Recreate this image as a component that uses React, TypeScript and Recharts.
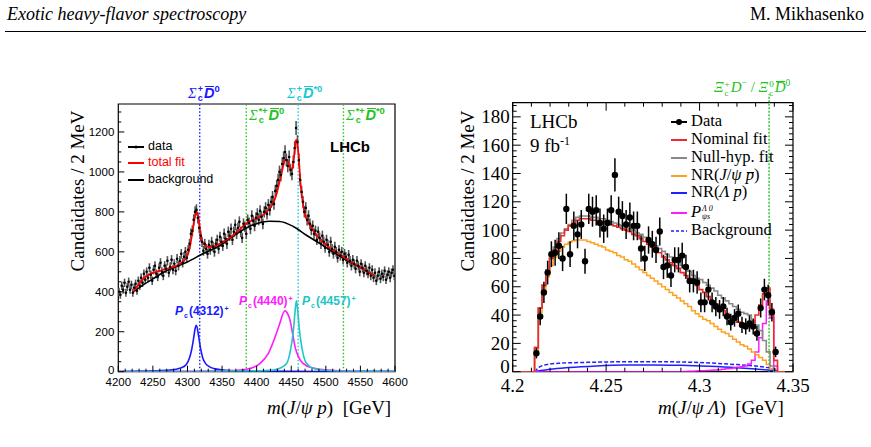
import React from 'react';
import {
  ComposedChart,
  Line,
  Scatter,
  ErrorBar,
  XAxis,
  YAxis,
  ReferenceLine,
  ReferenceArea,
} from 'recharts';

const SERIF = "'Liberation Serif', 'Times New Roman', serif";
const SANS = "'Liberation Sans', Arial, Helvetica, sans-serif";

// ---------- left panel: m(J/psi p), 2 MeV bins ----------
const jpsipFirstBin = 4201;
const jpsipBinWidth = 2;
const jpsipCounts = [
  400, 385, 430, 410, 445, 395, 425, 450, 410, 435,
  395, 420, 440, 405, 455, 430, 470, 445, 490, 460,
  500, 470, 520, 485, 455, 510, 530, 490, 475, 520,
  545, 500, 480, 530, 515, 555, 495, 525, 560, 510,
  540, 505, 565, 530, 555, 590, 545, 575, 600, 570,
  610, 640, 690, 705, 760, 800, 810, 770, 720, 680,
  650, 605, 640, 615, 590, 635, 610, 650, 625, 600,
  640, 660, 615, 675, 650, 630, 690, 665, 640, 700,
  680, 715, 660, 700, 735, 690, 720, 750, 700, 670,
  740, 725, 690, 760, 745, 715, 780, 755, 730, 770,
  790, 760, 805, 775, 740, 800, 820, 790, 835, 810,
  850, 875, 840, 905, 930, 960, 1000, 985, 1040, 1070,
  1100, 1060, 1030, 1075, 1010, 990, 1050, 1120, 1220, 1150,
  1060, 960, 900, 850, 800, 820, 760, 780, 740, 710,
  730, 690, 705, 660, 700, 670, 640, 680, 650, 620,
  660, 635, 600, 650, 615, 590, 625, 600, 570, 610,
  580, 600, 560, 590, 575, 545, 585, 555, 530, 560,
  540, 515, 555, 530, 500, 540, 520, 495, 530, 505,
  490, 520, 480, 510, 470, 495, 455, 480, 500, 465,
  490, 475, 505, 460, 485, 500, 470, 495, 510, 480,
];

const totalFitMass = [
  4222, 4228, 4234, 4241, 4248, 4258, 4267, 4277, 4287, 4295,
  4299, 4303, 4306, 4309, 4311, 4313, 4315, 4316.5, 4318, 4319.5,
  4321, 4323, 4327, 4332, 4340, 4347, 4356, 4366, 4375, 4385,
  4395, 4405, 4413, 4419, 4424, 4429, 4433, 4436, 4439, 4441,
  4443, 4445.5, 4448, 4449.5, 4451, 4453, 4455, 4456.6, 4458, 4459.5,
  4461.5, 4463, 4465, 4467, 4469.6, 4475, 4481.6, 4490, 4501, 4512,
  4525, 4537, 4549, 4560, 4570,
];
const totalFitCounts = [
  400, 430, 458, 478, 492, 503, 512, 522, 535, 555,
  575, 615, 675, 740, 780, 800, 785, 758, 715, 675,
  655, 642, 628, 624, 630, 642, 660, 683, 710, 742,
  760, 775, 795, 817, 845, 892, 950, 992, 1040, 1062,
  1063, 1050, 1020, 1012, 1015, 1042, 1110, 1158, 1160, 1120,
  1042, 960, 892, 840, 792, 745, 708, 670, 633, 606,
  575, 548, 525, 500, 478,
];

const bkgMass = [4222, 4235, 4250, 4267, 4285, 4299, 4323, 4347, 4371, 4395, 4419, 4433, 4453, 4472, 4491, 4510, 4530, 4549, 4570];
const bkgCounts = [400, 432, 465, 500, 528, 548, 592, 632, 690, 735, 753, 752, 727, 683, 642, 600, 558, 522, 478];

const pc4312Mass = [4200, 4250, 4275, 4290, 4298, 4303, 4306, 4309, 4311, 4312.5, 4314, 4316, 4319, 4322, 4326, 4332, 4340, 4360, 4400, 4500, 4600];
const pc4312Counts = [1, 4, 8, 18, 35, 70, 110, 170, 215, 232, 222, 180, 115, 70, 42, 24, 14, 6, 3, 1, 0.5];

const pc4440Mass = [4200, 4300, 4347, 4385, 4405, 4417, 4426, 4433.5, 4438, 4441, 4444, 4448, 4452, 4456, 4460, 4467, 4481.6, 4501, 4540, 4600];
const pc4440Counts = [0.5, 1.5, 3, 12, 42, 92, 167, 242, 290, 305, 295, 262, 190, 118, 78, 42, 18, 8, 3, 1.5];

const pc4457Mass = [4200, 4300, 4400, 4424, 4433.5, 4443.5, 4448, 4451, 4453.5, 4455.5, 4457.5, 4459.5, 4461.5, 4464, 4467, 4472, 4481.6, 4501, 4550, 4600];
const pc4457Counts = [0.5, 1, 4, 8, 17, 42, 92, 150, 220, 300, 355, 300, 220, 150, 92, 42, 17, 6, 3, 2];

const thresholdsL = [
  { m: 4317.7, color: '#1a1aff' },
  { m: 4385, color: '#22c322' },
  { m: 4460, color: '#19c7d2' },
  { m: 4525.5, color: '#22c322' },
];

const xMajorL = [4200, 4250, 4300, 4350, 4400, 4450, 4500, 4550, 4600];
const yMajorL = [0, 200, 400, 600, 800, 1000, 1200];

// ---------- right panel: m(J/psi Lambda), 2 MeV bins ----------
const lamFirstEdge = 4.2117;
const lamBinWidth = 0.002;
const lamCounts = [
  13, 39, 56, 70, 83, 84, 89, 80, 115, 83,
  103, 97, 104, 78, 115, 113, 114, 105, 101, 105,
  114, 139, 113, 110, 104, 109, 103, 103, 87, 80,
  93, 90, 86, 99, 74, 75, 68, 79, 79, 82,
  74, 64, 64, 63, 49, 49, 58, 49, 46, 44,
  46, 39, 35, 38, 41, 33, 32, 34, 32, 27,
  45, 58, 54, 42, 14,
];
const nominalFit = [
  17, 45, 61, 71, 80, 86, 92, 96, 100, 103,
  105, 107, 108, 108, 108, 107, 107, 106, 106, 105,
  104, 103, 102, 101, 100, 99, 97, 96, 94, 92,
  90, 88, 86, 84, 81, 79, 77, 75, 73, 70,
  68, 66, 63, 61, 58, 56, 53, 50, 48, 45,
  43, 41, 39, 37, 35, 34, 33, 33, 35, 40,
  47, 55, 59, 44, 8,
];
const nullHypFit = [
  17, 45, 61, 72, 81, 88, 94, 98, 101, 104,
  107, 109, 110, 110, 110, 109, 109, 108, 108, 107,
  106, 105, 104, 103, 102, 101, 100, 98, 97, 95,
  93, 91, 89, 87, 85, 83, 81, 79, 77, 75,
  73, 71, 68, 66, 65, 63, 61, 59, 57, 54,
  52, 50, 48, 46, 44, 42, 41, 40, 36, 33,
  29, 22, 14, 4, 0,
];
const nrJpsiPbar = [
  15, 42, 57, 67, 75, 81, 85, 88, 90, 91.5,
  92.5, 93, 93, 93, 92, 91, 90, 89, 88, 86,
  85, 84, 82, 81, 79, 78, 76, 74, 72, 70,
  68, 66, 64, 62, 60, 58, 56, 54, 52, 50,
  48, 46, 43, 41, 39, 37, 36, 34, 32, 30,
  28, 27, 25, 23, 21, 19, 18, 16, 14, 12,
  10, 8, 5, 2, 0,
];
const pPsiS = [
  0, 0, 0, 0, 0, 0, 0, 0, 0, 0,
  0, 0, 0, 0, 0, 0, 0, 0, 0, 0,
  0, 0, 0, 0, 0, 0, 0, 0, 0, 0,
  0, 0, 0, 0, 0, 0, 0, 0, 0, 0,
  0.2, 0.3, 0.4, 0.5, 0.6, 0.7, 0.8, 1, 1.2, 1.4,
  1.7, 2, 2.3, 2.7, 3.1, 3.5, 4, 5.5, 8, 14,
  24, 34, 50, 38, 4,
];
const nrLamPbarMass = [4.2117, 4.215, 4.22, 4.23, 4.245, 4.26, 4.275, 4.29, 4.305, 4.32, 4.33, 4.3417];
const nrLamPbarCounts = [0, 0.8, 1.8, 3, 4.1, 4.7, 4.8, 4.5, 3.8, 2.8, 1.9, 0.6];
const bkgLamMass = [4.2117, 4.214, 4.218, 4.225, 4.24, 4.26, 4.28, 4.3, 4.32, 4.33, 4.338, 4.3417];
const bkgLamCounts = [0, 3, 5, 6, 6.6, 7, 7, 6.5, 5, 4, 2.5, 1.5];

const xiThreshold = 4.3372;
const xMajorR = [4.2, 4.25, 4.3, 4.35];
const yMajorR = [0, 20, 40, 60, 80, 100, 120, 140, 160, 180];

// ---------- derived tables ----------
const jpsipPoints = jpsipCounts.map((v, i) => ({ m: jpsipFirstBin + i * jpsipBinWidth, v, err: Math.sqrt(v) }));
const curve = (ms: number[], vs: number[]) => ms.map((m, i) => ({ m, v: vs[i] }));
const lamPoints = lamCounts.map((v, i) => ({ m: lamFirstEdge + (i + 0.5) * lamBinWidth, v, err: Math.sqrt(v) }));
const steps = (vals: number[]) => [
  { m: 4.2, v: 0 },
  ...vals.map((v, i) => ({ m: lamFirstEdge + i * lamBinWidth, v })),
  { m: lamFirstEdge + vals.length * lamBinWidth, v: 0 },
  { m: 4.35, v: 0 },
];

const range = (a: number, b: number, s: number) => {
  const out: number[] = [];
  for (let k = 0; a + k * s <= b + 1e-9; k++) out.push(+(a + k * s).toFixed(4));
  return out;
};
const isMajor = (v: number, majors: number[]) => majors.some((t) => Math.abs(t - v) < 1e-6);

// axis boxes kept non-zero so recharts draws the ticks
const AXIS_H = 40;
const AXIS_W = 60;

// ---------- tick renderers (ROOT-style inward ticks) ----------
const xTick = (majors: number[], o: any) => (p: any) => {
  const { x, y, payload } = p;
  const maj = isMajor(payload.value, majors);
  const len = maj ? o.majLen : o.minLen;
  return (
    <g>
      <line x1={x} x2={x} y1={y} y2={y - len} stroke="#000" strokeWidth={1} />
      {o.topY !== undefined && <line x1={x} x2={x} y1={o.topY} y2={o.topY + len} stroke="#000" strokeWidth={1} />}
      {maj && (
        <text x={x} y={y + o.dy} textAnchor="middle" fontFamily={o.font} fontSize={o.size} fill="#000">
          {o.fmt(payload.value)}
        </text>
      )}
    </g>
  );
};
const yTick = (majors: number[], o: any) => (p: any) => {
  const { x, y, payload } = p;
  const maj = isMajor(payload.value, majors);
  const len = maj ? o.majLen : o.minLen;
  return (
    <g>
      <line x1={x} x2={x + len} y1={y} y2={y} stroke="#000" strokeWidth={1} />
      {o.rightX !== undefined && <line x1={o.rightX} x2={o.rightX - len} y1={y} y2={y} stroke="#000" strokeWidth={1} />}
      {maj && (
        <text x={x - o.dx} y={y + o.dy - (payload.value === 0 ? o.zeroLift : 0)} textAnchor="end" fontFamily={o.font} fontSize={o.size} fill="#000">
          {payload.value}
        </text>
      )}
    </g>
  );
};

// ---------- small text helpers ----------
const Abs = ({ x, y, children, style }: any) => (
  <div style={{ position: 'absolute', left: x, top: y, whiteSpace: 'nowrap', lineHeight: 1, ...style }}>{children}</div>
);
const Stack = ({ sup, sub, size }: any) => (
  <span style={{ display: 'inline-flex', flexDirection: 'column', fontSize: size, lineHeight: 1, verticalAlign: 'middle', margin: '0 1px' }}>
    <span>{sup ?? '\u00a0'}</span>
    <span>{sub ?? '\u00a0'}</span>
  </span>
);
// bar drawn just above the glyph (top given in em from the line box top)
const Bar = ({ children, top = '0.02em' }: any) => (
  <span style={{ position: 'relative', display: 'inline-block', lineHeight: 1 }}>
    {children}
    <span style={{ position: 'absolute', left: '0.08em', right: '0.02em', top, borderTop: '1px solid currentColor' }} />
  </span>
);
const YTitle = ({ x, y }: any) => (
  <div
    style={{
      position: 'absolute', left: x, top: y, transform: 'translate(-50%, -50%) rotate(-90deg)',
      fontFamily: SERIF, fontSize: 19, whiteSpace: 'nowrap', lineHeight: 1,
    }}
  >
    Candaidates / 2 MeV
  </div>
);
const Mark = ({ color, dash, dot, w = 16 }: any) => (
  <svg width={w} height={10} style={{ verticalAlign: 'middle', marginRight: 4 }}>
    <line x1={0} x2={w} y1={5} y2={5} stroke={color} strokeWidth={dash ? 1.6 : 2} strokeDasharray={dash ? '3 2' : undefined} />
    {dot && <circle cx={w / 2} cy={5} r={dot} fill={color} />}
  </svg>
);
const Thr = ({ x, y, color, sup, tail }: any) => (
  <Abs x={x} y={y} style={{ color, fontFamily: SANS, fontSize: 14.5, fontWeight: 'bold' }}>
    <i style={{ fontFamily: SERIF, fontWeight: 'normal' }}>Σ</i>
    <Stack sup={sup} sub="c" size={9} />
    <i><Bar>D</Bar></i>
    <span style={{ fontSize: 9.5, verticalAlign: 6 }}>{tail}</span>
  </Abs>
);

// ---------- panels ----------
const LeftPanel = () => {
  const W = 430;
  const H = 447;
  const plot = { left: 118.3, right: 395, top: 104, bottom: 371.7 };
  const tickStyle = { majLen: 6, minLen: 3, size: 11.5, font: SANS, dy: 14, dx: 4, zeroLift: 1.5, fmt: (v: number) => String(v) };
  return (
    <div style={{ position: 'absolute', left: 0, top: 0, width: W, height: H }}>
      <ComposedChart
        width={W}
        height={H}
        margin={{ left: plot.left - AXIS_W, right: W - plot.right, top: plot.top, bottom: H - plot.bottom - AXIS_H }}
      >
        <XAxis
          dataKey="m" type="number" domain={[4200, 4600]} allowDataOverflow
          ticks={range(4200, 4600, 10)} interval={0} height={AXIS_H} tickSize={0} tickMargin={0}
          axisLine={false} tickLine={false} tick={xTick(xMajorL, tickStyle)}
        />
        <YAxis
          type="number" domain={[0, 1340]} allowDataOverflow
          ticks={range(0, 1300, 50)} interval={0} width={AXIS_W} tickSize={0} tickMargin={0}
          axisLine={false} tickLine={false} tick={yTick(yMajorL, { ...tickStyle, dy: 4 })}
        />
        <ReferenceArea x1={4200} x2={4600} y1={0} y2={1340} fill="none" stroke="#000" strokeWidth={1.2} />
        {thresholdsL.map((t) => (
          <ReferenceLine key={t.m} x={t.m} stroke={t.color} strokeWidth={1.4} strokeDasharray="1.5 2" />
        ))}
        <Scatter
          data={jpsipPoints} dataKey="v" isAnimationActive={false}
          shape={(p: any) => <circle cx={p.cx} cy={p.cy} r={1.3} fill="#000" />}
        >
          <ErrorBar dataKey="err" direction="y" width={0} stroke="#555" strokeWidth={1.6} />
        </Scatter>
        <Line data={curve(pc4312Mass, pc4312Counts)} dataKey="v" type="monotone" dot={false} stroke="#1a1aff" strokeWidth={1.6} isAnimationActive={false} />
        <Line data={curve(pc4440Mass, pc4440Counts)} dataKey="v" type="monotone" dot={false} stroke="#ff1aff" strokeWidth={1.6} isAnimationActive={false} />
        <Line data={curve(pc4457Mass, pc4457Counts)} dataKey="v" type="monotone" dot={false} stroke="#22c4c4" strokeWidth={1.6} isAnimationActive={false} />
        <Line data={curve(bkgMass, bkgCounts)} dataKey="v" type="monotone" dot={false} stroke="#000" strokeWidth={1.6} isAnimationActive={false} />
        <Line data={curve(totalFitMass, totalFitCounts)} dataKey="v" type="monotone" dot={false} stroke="#ff0000" strokeWidth={1.8} isAnimationActive={false} />
      </ComposedChart>

      <YTitle x={76.5} y={191} />
      <Abs x={267} y={398} style={{ fontFamily: SERIF, fontSize: 19 }}>
        <i>m</i>(<i>J</i>/<i>ψ p</i>)&nbsp; [GeV]
      </Abs>

      <Thr x={188} y={84} color="#1a1aff" sup="+" tail="0" />
      <Thr x={287} y={84} color="#19c7d2" sup="+" tail="*0" />
      <Thr x={249} y={106} color="#22c322" sup="*+" tail="0" />
      <Thr x={346} y={106} color="#22c322" sup="*+" tail="*0" />

      <Abs x={330} y={139} style={{ fontFamily: SANS, fontSize: 15, fontWeight: 'bold' }}>LHCb</Abs>

      <Abs x={128} y={140} style={{ fontFamily: SANS, fontSize: 12.5 }}>
        <Mark color="#000" dot={1.5} />data
      </Abs>
      <Abs x={128} y={156} style={{ fontFamily: SANS, fontSize: 12.5, color: '#ff0000' }}>
        <Mark color="#ff0000" />total fit
      </Abs>
      <Abs x={128} y={173} style={{ fontFamily: SANS, fontSize: 12.5 }}>
        <Mark color="#000" />background
      </Abs>

      <Abs x={175} y={305} style={{ color: '#1a1aff', fontFamily: SANS, fontSize: 12, fontWeight: 'bold' }}>
        <i>P</i><Stack sub="c" size={7} />(4312)<Stack sup="+" size={7} />
      </Abs>
      <Abs x={239} y={295} style={{ color: '#ff1aff', fontFamily: SANS, fontSize: 12, fontWeight: 'bold' }}>
        <i>P</i><Stack sub="c" size={7} />(4440)<Stack sup="+" size={7} />
      </Abs>
      <Abs x={302} y={295} style={{ color: '#22c4c4', fontFamily: SANS, fontSize: 12, fontWeight: 'bold' }}>
        <i>P</i><Stack sub="c" size={7} />(4457)<Stack sup="+" size={7} />
      </Abs>
    </div>
  );
};

const RightPanel = () => {
  const X0 = 440;
  const W = 431;
  const H = 447;
  const plot = { left: 512.7 - X0, right: 793 - X0, top: 102.7, bottom: 371.7 };
  const tickStyle = { majLen: 8, minLen: 4, size: 19, font: SERIF, dy: 20.5, dx: 3, zeroLift: 5, topY: plot.top, rightX: plot.right };
  return (
    <div style={{ position: 'absolute', left: X0, top: 0, width: W, height: H }}>
      <ComposedChart
        width={W}
        height={H}
        margin={{ left: plot.left - AXIS_W, right: W - plot.right, top: plot.top, bottom: H - plot.bottom - AXIS_H }}
      >
        <XAxis
          dataKey="m" type="number" domain={[4.2, 4.35]} allowDataOverflow
          ticks={range(4.2, 4.35, 0.01)} interval={0} height={AXIS_H} tickSize={0} tickMargin={0}
          axisLine={false} tickLine={false}
          tick={xTick(xMajorR, { ...tickStyle, fmt: (v: number) => String(v) })}
        />
        <YAxis
          type="number" domain={[0, 190]} allowDataOverflow
          ticks={range(0, 188, 4)} interval={0} width={AXIS_W} tickSize={0} tickMargin={0}
          axisLine={false} tickLine={false} tick={yTick(yMajorR, { ...tickStyle, dy: 6.5, dx: 3 })}
        />
        <ReferenceArea x1={4.2} x2={4.35} y1={0} y2={190} fill="none" stroke="#000" strokeWidth={1.2} />
        <ReferenceLine
          segment={[{ x: xiThreshold, y: 0 }, { x: xiThreshold, y: 196 }]}
          ifOverflow="visible" stroke="#22c322" strokeWidth={1.4} strokeDasharray="2 1.5"
        />
        <Line data={curve(bkgLamMass, bkgLamCounts)} dataKey="v" type="monotone" dot={false} stroke="#2020ff" strokeWidth={1.5} strokeDasharray="4 2" isAnimationActive={false} />
        <Line data={curve(nrLamPbarMass, nrLamPbarCounts)} dataKey="v" type="monotone" dot={false} stroke="#2020ff" strokeWidth={1.5} isAnimationActive={false} />
        <Line data={steps(pPsiS)} dataKey="v" type="stepAfter" dot={false} stroke="#ff1aff" strokeWidth={1.5} isAnimationActive={false} />
        <Line data={steps(nrJpsiPbar)} dataKey="v" type="stepAfter" dot={false} stroke="#ffa020" strokeWidth={1.5} isAnimationActive={false} />
        <Line data={steps(nullHypFit)} dataKey="v" type="stepAfter" dot={false} stroke="#888" strokeWidth={1.6} isAnimationActive={false} />
        <Line data={steps(nominalFit)} dataKey="v" type="stepAfter" dot={false} stroke="#f02a2a" strokeWidth={1.6} isAnimationActive={false} />
        <Scatter
          data={lamPoints} dataKey="v" isAnimationActive={false}
          shape={(p: any) => <circle cx={p.cx} cy={p.cy} r={3.2} fill="#000" />}
        >
          <ErrorBar dataKey="err" direction="y" width={0} stroke="#000" strokeWidth={1.5} />
        </Scatter>
      </ComposedChart>

      <YTitle x={467 - X0} y={191} />
      <Abs x={658 - X0} y={398} style={{ fontFamily: SERIF, fontSize: 19 }}>
        <i>m</i>(<i>J</i>/<i>ψ Λ</i>)&nbsp; [GeV]
      </Abs>

      <Abs x={714 - X0} y={79} style={{ color: '#22c322', fontFamily: SERIF, fontSize: 15 }}>
        <i>Ξ</i><Stack sup="+" sub="c" size={9} /><i>D</i><span style={{ fontSize: 9.5, verticalAlign: 6 }}>−</span> / <i>Ξ</i>
        <Stack sup="0" sub="c" size={9} /><i><Bar top="0.06em">D</Bar></i><span style={{ fontSize: 9.5, verticalAlign: 6 }}>0</span>
      </Abs>

      <Abs x={530 - X0} y={112} style={{ fontFamily: SERIF, fontSize: 19 }}>LHCb</Abs>
      <Abs x={530 - X0} y={135} style={{ fontFamily: SERIF, fontSize: 19 }}>
        9 fb<sup style={{ fontSize: 12 }}>-1</sup>
      </Abs>

      {[
        { y: 113, el: <><Mark color="#000" dot={3} />Data</> },
        { y: 131, el: <><Mark color="#f02a2a" />Nominal fit</> },
        { y: 149, el: <><Mark color="#888" />Null-hyp. fit</> },
        { y: 166.5, el: <><Mark color="#ffa020" />NR(<i>J</i>/<i>ψ</i> <Bar top="0.33em"><i>p</i></Bar>)</> },
        { y: 184, el: <><Mark color="#2020ff" />NR(<i>Λ</i> <Bar top="0.33em"><i>p</i></Bar>)</> },
        {
          y: 203.5,
          el: (
            <>
              <Mark color="#ff1aff" />
              <i>P</i>
              <span style={{ display: 'inline-flex', flexDirection: 'column', fontSize: 8, lineHeight: '7.5px', verticalAlign: 'middle', marginLeft: 1 }}>
                <i>Λ 0</i>
                <i>ψs</i>
              </span>
            </>
          ),
        },
        { y: 222, el: <><Mark color="#2020ff" dash />Background</> },
      ].map((r, i) => (
        <Abs key={i} x={671 - X0} y={r.y} style={{ fontFamily: SERIF, fontSize: 16.5 }}>
          {r.el}
        </Abs>
      ))}
    </div>
  );
};

export default function App() {
  return (
    <div style={{ position: 'absolute', left: 0, top: 0, width: 871, height: 447, background: '#fff', overflow: 'hidden' }}>
      <div style={{ position: 'absolute', left: 7, top: 5, fontFamily: SERIF, fontStyle: 'italic', fontSize: 18, lineHeight: 1 }}>
        Exotic heavy-flavor spectroscopy
      </div>
      <div style={{ position: 'absolute', right: 7, top: 5, fontFamily: SERIF, fontSize: 18, lineHeight: 1 }}>
        M. Mikhasenko
      </div>
      <div style={{ position: 'absolute', left: 5, right: 5, top: 31, height: 1, background: '#000' }} />
      <LeftPanel />
      <RightPanel />
    </div>
  );
}
